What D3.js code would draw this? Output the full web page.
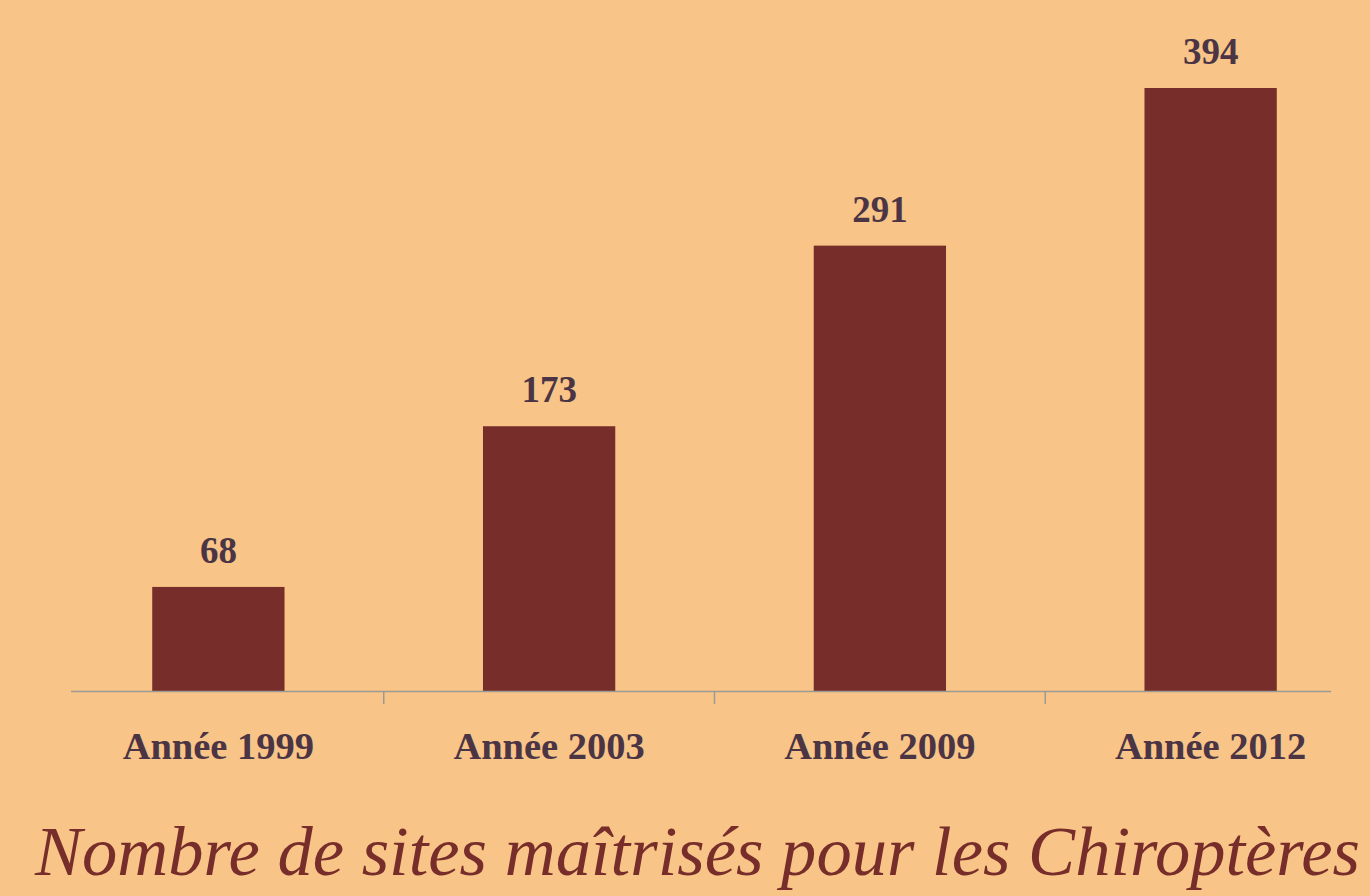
<!DOCTYPE html>
<html lang="fr">
<head>
  <meta charset="UTF-8">
  <title>Nombre de sites maîtrisés pour les Chiroptères</title>
  <script src="https://d3js.org/d3.v7.min.js"></script>
  <style>
    html, body { margin: 0; padding: 0; background: #F8C487; }
    .bar { fill: #772E2A; }
    .valueText { font-family: "Liberation Serif", serif; font-weight: bold; font-size: 37px; fill: #4B3545; }
    .catText { font-family: "Liberation Serif", serif; font-weight: bold; font-size: 38.5px; fill: #4B3545; }
    .titleText { font-family: "Liberation Serif", serif; font-style: italic; font-size: 70px; fill: #772E2A; }
  </style>
</head>
<body>
<div id="chart"></div>
<script>
  // data
  const categories = ["Année 1999", "Année 2003", "Année 2009", "Année 2012"];
  const values = [68, 173, 291, 394];
  const title = "Nombre de sites maîtrisés pour les Chiroptères";

  const width = 1370, height = 896;
  const baseY = 691;

  const svg = d3.select("#chart").append("svg")
    .attr("width", width)
    .attr("height", height);

  svg.append("rect").attr("width", width).attr("height", height).attr("fill", "#F8C487");

  const x = d3.scaleBand()
    .domain(categories)
    .range([53, 1376])
    .paddingInner(0.6)
    .paddingOuter(0.3);

  const y = d3.scaleLinear()
    .domain([0, d3.max(values)])
    .range([baseY, 88]);

  // bars
  svg.selectAll("rect.bar")
    .data(values)
    .enter()
    .append("rect")
    .attr("class", "bar")
    .attr("x", (d, i) => x(categories[i]))
    .attr("y", d => y(d))
    .attr("width", x.bandwidth())
    .attr("height", d => baseY - y(d));

  // axis line + ticks between categories
  svg.append("line")
    .attr("x1", 71).attr("x2", 1331)
    .attr("y1", baseY + 0.5).attr("y2", baseY + 0.5)
    .attr("stroke", "#9C9A94").attr("stroke-width", 1.5);

  const gap = x.step() - x.bandwidth();
  svg.selectAll("line.tick")
    .data(categories.slice(0, -1))
    .enter()
    .append("line")
    .attr("class", "tick")
    .attr("x1", d => x(d) + x.bandwidth() + gap / 2)
    .attr("x2", d => x(d) + x.bandwidth() + gap / 2)
    .attr("y1", baseY)
    .attr("y2", baseY + 13)
    .attr("stroke", "#9C9A94").attr("stroke-width", 1.5);

  // value labels
  svg.selectAll("text.valueText")
    .data(values)
    .enter()
    .append("text")
    .attr("class", "valueText")
    .attr("x", (d, i) => x(categories[i]) + x.bandwidth() / 2)
    .attr("y", d => y(d) - 24)
    .attr("text-anchor", "middle")
    .text(d => d);

  // category labels
  svg.selectAll("text.catText")
    .data(categories)
    .enter()
    .append("text")
    .attr("class", "catText")
    .attr("x", d => x(d) + x.bandwidth() / 2)
    .attr("y", 759)
    .attr("text-anchor", "middle")
    .text(d => d);

  // title
  svg.append("text")
    .attr("class", "titleText")
    .attr("x", 35)
    .attr("y", 875)
    .attr("textLength", 1325)
    .attr("lengthAdjust", "spacingAndGlyphs")
    .text(title);
</script>
</body>
</html>
